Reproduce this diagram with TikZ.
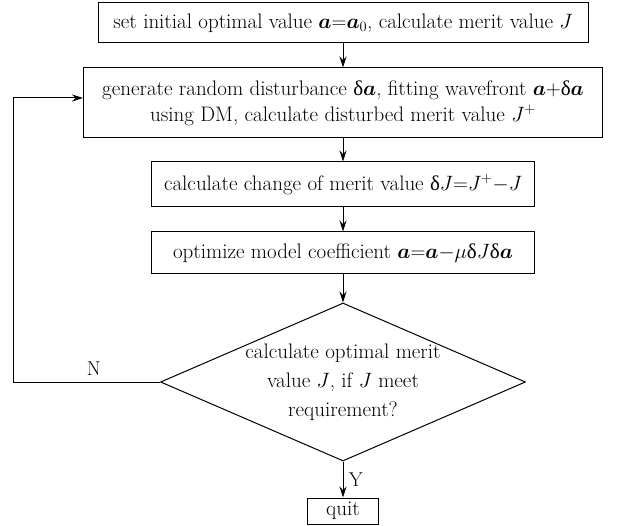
\documentclass[tikz,border=0pt]{standalone}
\usepackage{fontspec}
\usepackage{bm}
\usetikzlibrary{shapes.geometric,arrows.meta}
\newfontfamily\grecofont{Liberation Serif}
\newcommand{\dlt}{\mbox{\grecofont δ}}
\tikzset{
  blocco/.style={draw,line width=1pt,inner sep=0pt,align=center,
    font=\fontsize{21}{26}\selectfont},
  freccia/.style={-{Stealth[length=11pt,width=7pt]},line width=1pt},
  etichetta/.style={font=\fontsize{20}{22}\selectfont},
}
\begin{document}
\begin{tikzpicture}[x=1pt,y=-1pt]
    \useasboundingbox (0,0) rectangle (623,526);
    %blocchi del ciclo
    \node[blocco,minimum width=490pt,minimum height=40pt] (init) at (343,23)
        {set initial optimal value $\bm{a}{=}\bm{a}_0$, calculate merit value $J$};
    \node[blocco,minimum width=519pt,minimum height=70pt] (gen) at (343,103)
        {generate random disturbance $\dlt\bm{a}$, fitting wavefront $\bm{a}{+}\dlt\bm{a}$\\
         using DM, calculate disturbed merit value $J^{+}$};
    \node[blocco,minimum width=383pt,minimum height=45pt] (change) at (343,184.5)
        {calculate change of merit value $\dlt J{=}J^{+}{-}J$};
    \node[blocco,minimum width=383pt,minimum height=42pt] (opt) at (343,253)
        {optimize model coefficient $\bm{a}{=}\bm{a}{-}\mu\dlt J\dlt\bm{a}$};
    %rombo di controllo
    \node[blocco,shape=diamond,aspect=2.31,inner xsep=-40pt,inner ysep=-20pt,
        minimum width=365pt,minimum height=158pt,
        font=\fontsize{21}{29}\selectfont] (check) at (343,382)
        {calculate optimal merit\\ value $J$, if $J$ meet\\ requirement?};
    \node[blocco,minimum width=71pt,minimum height=26pt] (quit) at (343,511) {quit};
    %frecce
    \draw[freccia] (init) -- (gen);
    \draw[freccia] (gen) -- (change);
    \draw[freccia] (change) -- (opt);
    \draw[freccia] (opt) -- (check);
    \draw[freccia] (check) -- node[right=2pt,etichetta] (yes) {Y} (quit);
    %ritorno
    \coordinate (back) at (13,382);
    \draw[freccia] (check.west) -- node[above=3pt,pos=0.45,etichetta] (no) {N}
        (back) |- ([yshift=5pt]gen.west);
\end{tikzpicture}
\end{document}
